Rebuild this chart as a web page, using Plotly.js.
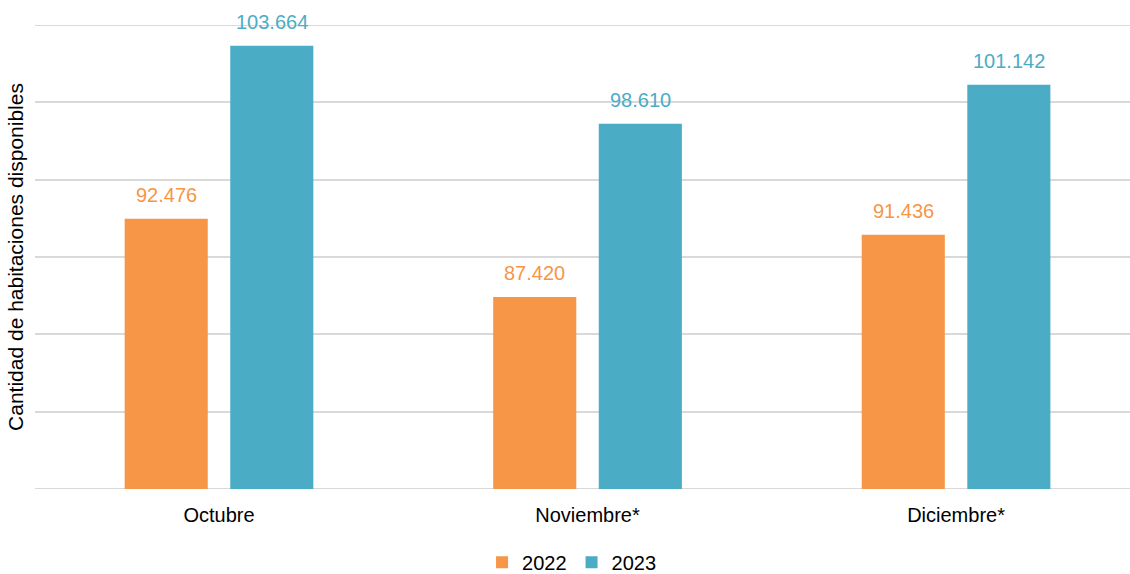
<!DOCTYPE html>
<html>
<head>
<meta charset="utf-8">
<script src="https://cdn.plot.ly/plotly-3.0.1.min.js"></script>
<style>html,body{margin:0;padding:0;background:#fff;}#chart{width:1130px;height:574px;}</style>
</head>
<body>
<div id="chart"></div>
<script>
const categories = ['Octubre', 'Noviembre*', 'Diciembre*'];
const series2022 = [92476, 87420, 91436];
const series2023 = [103664, 98610, 101142];
const seriesNames = ['2022', '2023'];

const colors = ['#F79646', '#4BACC6'];
const font = '"Liberation Sans", Arial, Helvetica, sans-serif';
const yMin = 75000, yMax = 105000;

function fmt(v) {
  return String(v).replace(/\B(?=(\d{3})+(?!\d))/g, '.');
}

const traces = [series2022, series2023].map((vals, i) => ({
  type: 'bar',
  name: seriesNames[i],
  x: categories,
  y: vals,
  marker: {color: colors[i]},
  hovertemplate: '%{x}: %{y:,}<extra>' + seriesNames[i] + '</extra>'
}));

const annotations = [];
[series2022, series2023].forEach((vals, i) => {
  vals.forEach((v, j) => {
    annotations.push({
      x: categories[j], y: v, xref: 'x', yref: 'y',
      text: fmt(v), showarrow: false,
      xshift: i === 0 ? -52.75 : 52.75,
      yshift: 24, yanchor: 'middle',
      font: {family: font, size: 20, color: colors[i]}
    });
  });
});

const shapes = [yMin, yMax].map(v => ({
  type: 'line', xref: 'paper', yref: 'y', x0: 0, x1: 1, y0: v, y1: v,
  line: {color: '#D9D9D9', width: 2}, layer: 'below'
}));

const layout = {
  width: 1130, height: 574,
  margin: {l: 35, r: 0, t: 25, b: 85, autoexpand: false},
  paper_bgcolor: '#fff', plot_bgcolor: '#fff',
  barmode: 'group',
  bargap: 0.427,
  bargroupgap: 0.213,
  separators: ',.',
  font: {family: font, color: '#000'},
  xaxis: {
    type: 'category',
    range: [-0.4993, 2.472],
    showgrid: false, zeroline: false,
    showline: false,
    ticks: '',
    tickfont: {family: font, size: 20, color: '#000'},
    ticklabelstandoff: 12,
    automargin: false
  },
  yaxis: {
    range: [yMin, yMax],
    dtick: 5000,
    showticklabels: false,
    showgrid: true, gridcolor: '#D9D9D9', gridwidth: 2,
    zeroline: false, showline: false, ticks: '',
    automargin: false,
    title: {text: 'Cantidad de habitaciones disponibles', font: {family: font, size: 21, color: '#000'}, standoff: 4}
  },
  legend: {
    orientation: 'h', x: 0.49, xanchor: 'center', y: -0.158, yanchor: 'middle',
    font: {family: font, size: 20, color: '#000'},
    itemwidth: 30
  },
  showlegend: true,
  shapes: shapes,
  annotations: annotations
};

Plotly.newPlot('chart', traces, layout, {displayModeBar: false});
</script>
</body>
</html>
